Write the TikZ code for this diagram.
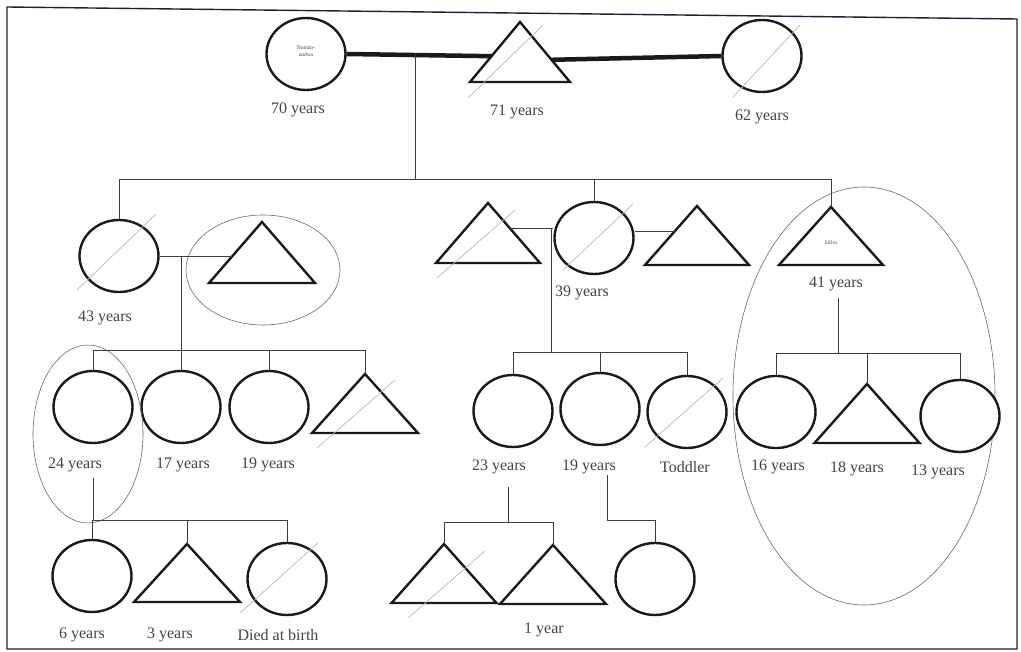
\documentclass[tikz,border=0pt]{standalone}
\usepackage{fontspec}
\setmainfont{Liberation Serif}
\usetikzlibrary{shapes.geometric,calc}
\definecolor{ink}{HTML}{1A1A1A}
\definecolor{lbl}{HTML}{45404F}
\definecolor{slashc}{HTML}{B8B8C2}
\definecolor{grpc}{HTML}{6A6A72}
\definecolor{framec}{HTML}{1C2233}
\tikzset{
 person/.style={draw=ink, line width=2.4pt, fill=white},
 fem/.style={person, ellipse, minimum width=79pt, minimum height=72pt, inner sep=0pt},
 rel/.style={draw=ink!85, line width=0.9pt},
 couple/.style={draw=ink, line width=4.5pt},
 slash/.style={draw=slashc, line width=0.7pt},
 grp/.style={draw=grpc, line width=0.6pt, ellipse, inner sep=0pt},
 lab/.style={text=lbl, font=\fontsize{16}{18}\selectfont, inner sep=0pt},
 tiny/.style={text=lbl, font=\fontsize{5.5}{6.5}\selectfont, align=center, inner sep=0pt},
}
\newcommand{\ptri}[5]{%
 \coordinate (#1) at (#2,#3);
 \draw[person] (#1) -- ++(-#4,#5) coordinate (#1-bl) -- ++(2*#4,0) coordinate (#1-br) -- cycle;}
\begin{document}
\begin{tikzpicture}[x=1pt,y=-1pt]
\useasboundingbox (0,0) rectangle (1021,652);
\fill[white] (0,0) rectangle (1021,652);
\draw[framec, line width=1.4pt] (7,7) -- (1017,19) -- (1017,649) -- (7,649) -- cycle;

% ---------- top generation
\node[fem] (A) at (306,54) {};
\node[tiny] (An) at (306,51) {Nomda-\\andwa};
\node[fem] (C) at (762,56) {};
\ptri{B}{520}{22}{50}{60}
\coordinate (Bl) at ($(B)!0.57!(B-bl)$);
\coordinate (Br) at ($(B)!0.63!(B-br)$);
\draw[couple] (A.east) -- (Bl);
\draw[couple] (Br) -- (C.west);
\draw[slash] ($(B)+(-52,76)$) -- ($(B)+(23,3)$);
\draw[slash] ($(C)+(-29,41)$) -- ($(C)+(38,-31)$);
\node[lab] (Al) at (298,110) {70 years};
\node[lab] (Blab) at (517,112) {71 years};
\node[lab] (Cl) at (762,117) {62 years};

% ---------- second generation
\node[fem] (D) at (119,256) {};
\draw[slash] ($(D)+(-42,34)$) -- ($(D)+(37,-42)$);
\node[lab] (Dl) at (105,318) {43 years};
\ptri{E}{262}{222}{53}{61}
\node[grp, minimum width=154pt, minimum height=110pt] (gE) at (263,270) {};

\ptri{F1}{488}{203}{52}{60}
\draw[slash] ($(F1)+(-51,75)$) -- ($(F1)+(27,7)$);
\node[fem] (F2) at (594,238) {};
\draw[slash] ($(F2)+(-31,32)$) -- ($(F2)+(39,-34)$);
\node[lab] (F2l) at (582,293) {39 years};
\ptri{F3}{697}{206}{52}{59}

\ptri{G}{831}{207}{52}{58}
\node[tiny] (Gn) at (831,243) {Sifiso};
\node[lab] (Gl) at (836,284) {41 years};
\node[grp, minimum width=262pt, minimum height=418pt] (gG) at (864,396) {};

% ---------- third generation
\node[fem] (H1) at (93,407) {};
\node[fem] (H2) at (181,407) {};
\node[fem] (H3) at (269,407) {};
\ptri{H4}{365}{374}{53}{59}
\draw[slash] ($(H4)+(-48,74)$) -- ($(H4)+(30,6)$);
\node[grp, minimum width=110pt, minimum height=178pt] (gH) at (88,434) {};
\node[lab] (H1l) at (75,465) {24 years};
\node[lab] (H2l) at (183,465) {17 years};
\node[lab] (H3l) at (268,465) {19 years};

\node[fem] (J1) at (513,411) {};
\node[fem] (J2) at (600,409) {};
\node[fem] (J3) at (687,412) {};
\draw[slash] ($(J3)+(-42,35)$) -- ($(J3)+(36,-34)$);
\node[lab] (J1l) at (499,467) {23 years};
\node[lab] (J2l) at (589,467) {19 years};
\node[lab] (J3l) at (685,467) {Toddler};

\node[fem] (L1) at (776,412) {};
\ptri{L2}{867}{384}{52.5}{59}
\node[fem] (L3) at (960,416) {};
\node[lab] (L1l) at (778,467) {16 years};
\node[lab] (L2l) at (857,469) {18 years};
\node[lab] (L3l) at (938,472) {13 years};

% ---------- fourth generation
\node[fem] (I1) at (92,576) {};
\ptri{I2}{187}{544}{53}{58}
\node[fem] (I3) at (287,579) {};
\draw[slash] ($(I3)+(-47,34)$) -- ($(I3)+(31,-36)$);
\node[lab] (I1l) at (82,635) {6 years};
\node[lab] (I2l) at (170,635) {3 years};
\node[lab] (I3l) at (278,635) {Died at birth};

\ptri{K1}{444}{544}{52.5}{59}
\draw[slash] ($(K1)+(-36,74)$) -- ($(K1)+(41,7)$);
\ptri{K2}{553}{545}{53}{59}
\node[fem] (K3) at (655,579) {};
\node[lab] (Kl) at (544,630) {1 year};

% ---------- connectors
\coordinate (td) at (415,179);
\draw[rel] (td |- A.east) -- (td);
\draw[rel] (D.north |- td) -- (G |- td);
\draw[rel] (D.north |- td) -- (D.north);
\draw[rel] (F2.north |- td) -- (F2.north);
\draw[rel] (G |- td) -- (G);

\coordinate (El) at ($(E)!0.56!(E-bl)$);
\draw[rel] (D.east) -- (D.east -| El);
\draw[rel] (D.east -| H2.north) -- (H2.north);
\coordinate (hs) at (0,350);
\draw[rel] (H1.north |- hs) -- (H4 |- hs);
\draw[rel] (H1.north |- hs) -- (H1.north);
\draw[rel] (H3.north |- hs) -- (H3.north);
\draw[rel] (H4 |- hs) -- (H4);

\coordinate (F1r) at ($(F1)!0.43!(F1-br)$);
\draw[rel] (F1r) -- (F1r -| F2.west);
\coordinate (F3l) at ($(F3)!0.43!(F3-bl)$);
\draw[rel] (F3l -| F2.east) -- (F3l);
\coordinate (fd) at (551,352);
\draw[rel] (fd |- F1r) -- (fd);
\draw[rel] (J1.north |- fd) -- (J3.north |- fd);
\draw[rel] (J1.north |- fd) -- (J1.north);
\draw[rel] (J2.north |- fd) -- (J2.north);
\draw[rel] (J3.north |- fd) -- (J3.north);

\coordinate (gd) at (838,298);
\coordinate (gs) at (838,353);
\draw[rel] (gd) -- (gs);
\draw[rel] (L1.north |- gs) -- (L3.north |- gs);
\draw[rel] (L1.north |- gs) -- (L1.north);
\draw[rel] (L2 |- gs) -- (L2);
\draw[rel] (L3.north |- gs) -- (L3.north);

\coordinate (hd) at (93,478);
\coordinate (hs2) at (93,520);
\draw[rel] (hd) -- (hs2) -- (I3.north |- hs2);
\draw[rel] (I1.north |- hs2) -- (I1.north);
\draw[rel] (I2 |- hs2) -- (I2);
\draw[rel] (I3.north |- hs2) -- (I3.north);

\coordinate (jd) at (508,487);
\coordinate (js) at (508,522);
\draw[rel] (jd) -- (js);
\draw[rel] (K1 |- js) -- (K2 |- js);
\draw[rel] (K1 |- js) -- (K1);
\draw[rel] (K2 |- js) -- (K2);

\coordinate (j2d) at (607,475);
\coordinate (j2s) at (607,520);
\draw[rel] (j2d) -- (j2s) -| (K3.north);
\end{tikzpicture}
\end{document}
